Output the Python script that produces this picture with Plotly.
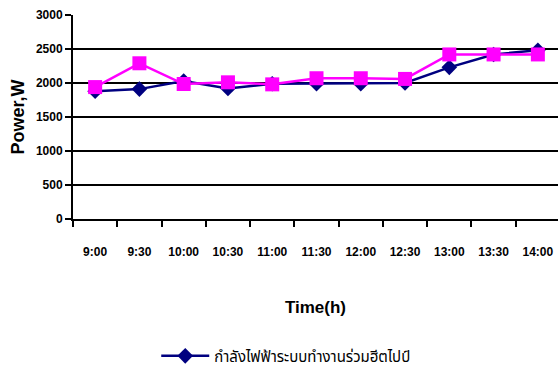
import plotly.graph_objects as go

times = ["9:00", "9:30", "10:00", "10:30", "11:00", "11:30", "12:00", "12:30", "13:00", "13:30", "14:00"]
power_heatpipe = [1880, 1910, 2030, 1920, 1990, 1990, 1990, 2000, 2230, 2420, 2480]
power_other = [1940, 2290, 1985, 2010, 1980, 2070, 2070, 2060, 2420, 2420, 2420]
series_name = "กำลังไฟฟ้าระบบทำงานร่วมฮีตไปป์"
y_ticks = [0, 500, 1000, 1500, 2000, 2500, 3000]

font_main = "Liberation Sans"

fig = go.Figure()
fig.add_trace(go.Scatter(
    x=times, y=power_heatpipe, name=series_name, mode="lines+markers",
    line=dict(color="#000080", width=2.5),
    marker=dict(symbol="diamond", size=12, color="#000080"),
))
fig.add_trace(go.Scatter(
    x=times, y=power_other, mode="lines+markers", showlegend=False,
    line=dict(color="#FF00FF", width=2.5),
    marker=dict(symbol="square", size=14, color="#FF00FF"),
))

fig.update_layout(
    width=558, height=369,
    margin=dict(l=73, r=0, t=15, b=150, autoexpand=False),
    paper_bgcolor="white", plot_bgcolor="white",
    font=dict(family=font_main, color="black"),
    showlegend=True,
    legend=dict(orientation="h", xref="container", x=0.28, xanchor="left",
                yref="container", y=0.035, yanchor="middle",
                itemwidth=48,
                font=dict(size=15, family="Noto Sans Thai, Loma, Garuda, sans-serif")),
    xaxis=dict(
        type="category", range=[-0.5, 10.455],
        tickson="boundaries", ticks="outside", ticklen=6, tickwidth=2, tickcolor="black",
        showline=True, linecolor="black", linewidth=2,
        showgrid=False, ticklabelstandoff=21,
        tickfont=dict(size=12, family=font_main, weight="bold"),
        title=dict(text="Time(h)", font=dict(size=17, family=font_main, weight="bold"), standoff=43),
    ),
    yaxis=dict(
        range=[0, 3000], tickvals=y_ticks,
        ticks="outside", ticklen=6, tickwidth=2, tickcolor="black",
        showline=True, linecolor="black", linewidth=2,
        showgrid=True, gridcolor="black", gridwidth=2, zeroline=False,
        tickfont=dict(size=12, family=font_main, weight="bold"),
        title=dict(text="Power,W", font=dict(size=18, family=font_main, weight="bold"), standoff=7),
    ),
)

fig.write_html("out.html")
